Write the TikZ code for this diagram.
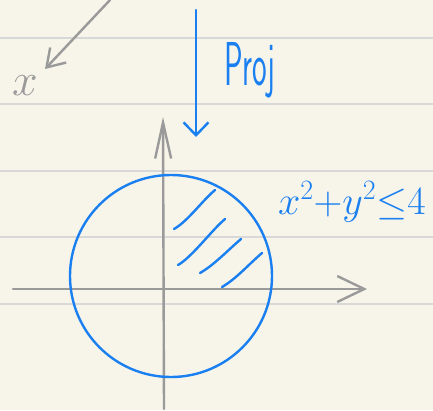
\RequirePackage{fix-cm}
\documentclass[tikz,border=0pt]{standalone}
\usetikzlibrary{arrows.meta}
\definecolor{paper}{HTML}{F7F5EA}
\definecolor{rule}{HTML}{D8D8D8}
\definecolor{ink}{HTML}{1A7FF0}
\definecolor{pencil}{HTML}{9A9A9A}
\begin{document}
\begin{tikzpicture}[x=1pt,y=-1pt,line cap=round,line join=round,
		axis/.style={pencil,line width=2.4pt},
		pen/.style={ink,line width=2.4pt},
		every node/.style={inner sep=0pt,outer sep=0pt}]
		\fill[paper] (0,0) rectangle (433,410);
		\useasboundingbox (0,0) rectangle (433,410);
		\foreach \y in {38,104,171,237,304}
			\draw[rule,line width=1.4pt] (0,\y) -- (433,\y);
		\coordinate (xl) at (13,289);
		\coordinate (xr) at (367,289);
		\coordinate (yb) at (164,409);
		\coordinate (yt) at (163,117);
		\draw[axis,-{Straight Barb[length=27pt,width=26pt]}] (xl) -- (xr);
		\draw[axis,-{Straight Barb[length=36pt,width=16pt]}] (yb) -- (yt);
		\node[circle,draw,pen,minimum size=202pt] (disk) at (171,276) {};
		\foreach \a/\b/\c/\d in {174/229/215/190,178/265/225/219,200/273/241/239,222/287/262/253}
			\draw[pen] (\a,\b) .. controls (\a+14,\b-8) and (\c-14,\d+12) .. (\c,\d);
		\coordinate (p0) at (196,10);
		\coordinate (p1) at (196,137);
		\draw[pen,-{Straight Barb[length=13pt,width=25pt]}] (p0) -- (p1);
		\node[ink,anchor=north west,font=\fontsize{62}{62}\sffamily] (proj) at (224,42) {\scalebox{0.5}[1]{Proj}};
		\node[ink,anchor=west,font=\fontsize{40}{40}\selectfont] (ineq) at (278,202) {$x^2{+}y^2{\leq}4$};
		\coordinate (q0) at (110,0);
		\coordinate (q1) at (45,69);
		\draw[axis,-{Straight Barb[length=17pt,width=22pt]}] (q0) -- (q1);
		\node[pencil,font=\fontsize{46}{46}\selectfont] (xlab) at (25,86) {$x$};
	\end{tikzpicture}
\end{document}
